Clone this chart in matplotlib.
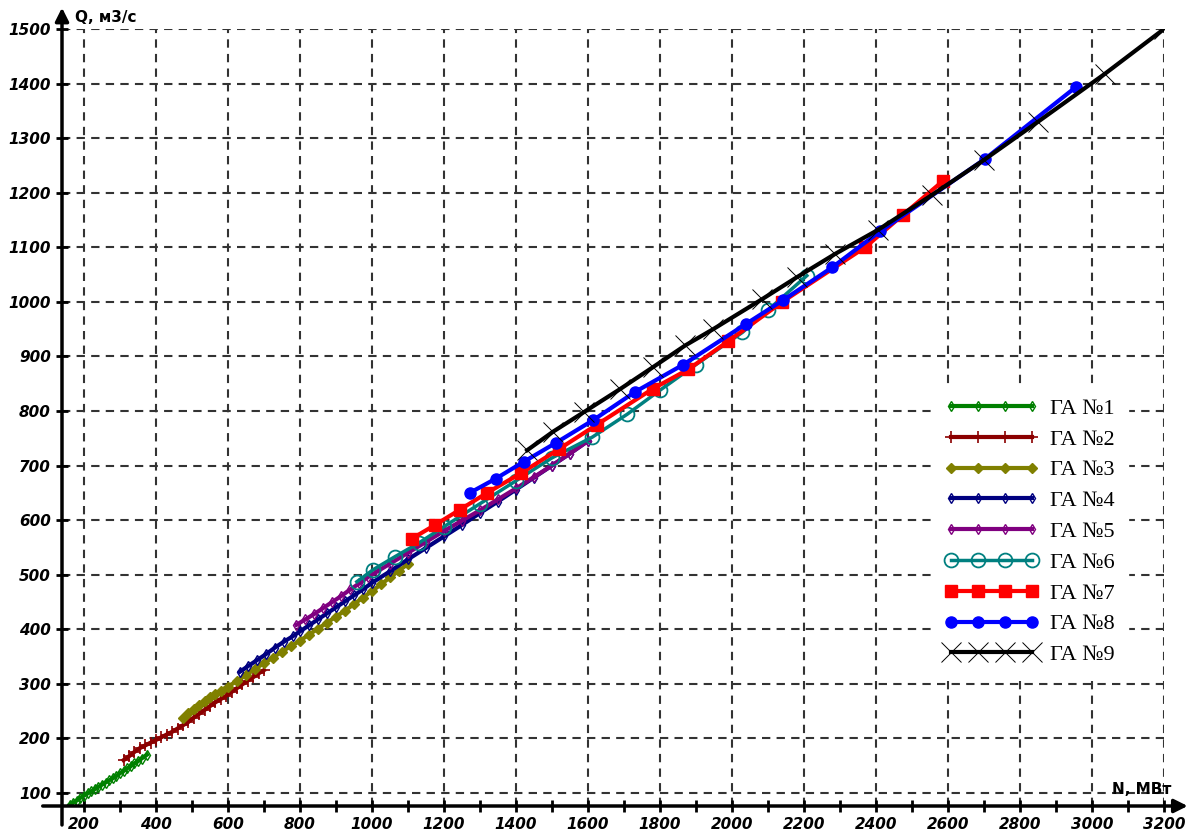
import matplotlib
matplotlib.use("Agg")
import matplotlib.pyplot as plt
from matplotlib.ticker import MultipleLocator
from matplotlib.font_manager import FontProperties

# === Data: N (MW) vs Q (m3/s) for each unit ===
ga1_n = [160, 170, 180, 190, 200, 210, 220, 230, 240, 250, 260, 270, 280, 290,
         300, 310, 320, 330, 340, 350, 360, 375]
ga1_q = [78, 82, 86, 91, 95, 99, 103, 107, 111, 115, 119, 123, 127, 131,
         136, 140, 145, 149, 154, 158, 163, 170]

ga2_n = [310, 325, 340, 355, 370, 385, 400, 415, 430, 445, 460, 475, 490, 505, 520,
         535, 550, 565, 580, 595, 610, 625, 640, 655, 670, 685, 700]
ga2_q = [160, 167, 175, 182, 187, 192, 197, 202, 207, 212, 218, 224, 230, 238, 245,
         252, 259, 266, 272, 278, 285, 292, 299, 306, 312, 319, 325]

ga3_n = [475, 490, 505, 520, 535, 550, 565, 580, 600, 625, 650, 675, 700, 725, 750,
         775, 800, 825, 850, 875, 900, 925, 950, 975, 1000, 1025, 1050, 1075, 1100]
ga3_q = [238, 246, 254, 262, 268, 275, 281, 287, 295, 305, 316, 327, 338, 348, 359,
         369, 379, 390, 401, 412, 423, 434, 446, 458, 470, 482, 495, 507, 520]

ga4_n = [633, 655, 680, 705, 730, 755, 780, 800, 825, 850, 875, 900, 925, 950, 975,
         1000, 1050, 1100, 1150, 1200, 1250, 1300, 1350, 1400, 1450, 1500, 1550, 1600]
ga4_q = [322, 332, 343, 354, 366, 377, 387, 396, 407, 418, 429, 440, 451, 462, 473,
         485, 506, 528, 549, 570, 591, 613, 634, 656, 678, 700, 722, 745]

ga5_n = [790, 815, 840, 865, 890, 915, 940, 965, 990, 1015, 1050, 1100, 1150, 1200,
         1250, 1300, 1350, 1400, 1450, 1500, 1550, 1600]
ga5_q = [408, 418, 428, 439, 450, 461, 473, 484, 496, 506, 520, 540, 560, 580,
         599, 618, 638, 658, 679, 700, 722, 745]

ga6_n = [958, 1003, 1064, 1130, 1200, 1300, 1400, 1500, 1612, 1709, 1800, 1900, 2029, 2100, 2208]
ga6_q = [487, 509, 533, 558, 588, 630, 672, 714, 752, 794, 838, 885, 944, 985, 1048]

ga7_n = [1111, 1175, 1244, 1320, 1414, 1519, 1625, 1781, 1878, 1990, 2140, 2370, 2476, 2587]
ga7_q = [566, 591, 619, 650, 686, 730, 775, 841, 876, 928, 1000, 1100, 1160, 1222]

ga8_n = [1272, 1344, 1422, 1512, 1614, 1731, 1865, 2040, 2142, 2278, 2411, 2703, 2956]
ga8_q = [650, 676, 707, 742, 783, 835, 885, 960, 1003, 1063, 1129, 1262, 1394]

ga9_n = [1431, 1503, 1589, 1689, 1780, 1870, 1948, 2084, 2180, 2287, 2406, 2556, 2700, 2850, 3036, 3200]
ga9_q = [728, 762, 798, 840, 880, 920, 950, 1005, 1045, 1088, 1132, 1196, 1260, 1330, 1418, 1500]

labels = ["ГА №1", "ГА №2", "ГА №3", "ГА №4", "ГА №5", "ГА №6", "ГА №7", "ГА №8", "ГА №9"]

# === Figure ===
fig = plt.figure(figsize=(12.04, 8.36), dpi=100)
W, H = 1204, 836
ax = fig.add_axes([62 / W, (H - 806) / H, (1164 - 62) / W, (806 - 29) / H])

ax.plot(ga1_n, ga1_q, color="#008000", lw=3, marker="d", ms=5, mfc="none", mew=1, label=labels[0])
ax.plot(ga2_n, ga2_q, color="#8b0000", lw=3, marker="+", ms=8, mew=1.2, label=labels[1])
ax.plot(ga3_n, ga3_q, color="#808000", lw=3, marker="D", ms=5, label=labels[2])
ax.plot(ga4_n, ga4_q, color="#000080", lw=3, marker="d", ms=5, mfc="none", mew=1, label=labels[3])
ax.plot(ga5_n, ga5_q, color="#800080", lw=3, marker="d", ms=5, mfc="none", mew=1, label=labels[4])
ax.plot(ga6_n, ga6_q, color="#008080", lw=2.5, marker="o", ms=10, mfc="none", mew=1.3, label=labels[5])
ax.plot(ga7_n, ga7_q, color="#ff0000", lw=3, marker="s", ms=9, label=labels[6])
ax.plot(ga8_n, ga8_q, color="#0000ff", lw=3, marker="o", ms=8, label=labels[7])
ax.plot(ga9_n, ga9_q, color="#000000", lw=3, marker="x", ms=14, mew=0.7, label=labels[8])

ax.set_xlim(139, 3200)
ax.set_ylim(76, 1500)
ax.xaxis.set_major_locator(MultipleLocator(200))
ax.xaxis.set_minor_locator(MultipleLocator(100))
ax.yaxis.set_major_locator(MultipleLocator(100))

ax.grid(True, which="major", color="#333333", linestyle=(0, (4, 3)), lw=1.5)
for s in ax.spines.values():
    s.set_visible(False)

tick_font = FontProperties(family="DejaVu Sans", weight="bold", style="italic", size=11)
ax.tick_params(axis="both", which="major", direction="inout", length=9, width=2, color="black")
ax.tick_params(axis="x", which="minor", direction="inout", length=9, width=2, color="black")
for lab in ax.get_xticklabels() + ax.get_yticklabels():
    lab.set_fontproperties(tick_font)

# axis lines with arrows
ax.annotate("", xy=(0, 1.031), xytext=(0, -0.028), xycoords="axes fraction",
            arrowprops=dict(arrowstyle="-|>", color="black", lw=2.5, mutation_scale=20), annotation_clip=False)
ax.annotate("", xy=(1.024, 0), xytext=(-0.02, 0), xycoords="axes fraction",
            arrowprops=dict(arrowstyle="-|>", color="black", lw=2.5, mutation_scale=20), annotation_clip=False)

fig.text(75 / W, 1 - 17 / H, "Q, м3/с", ha="left", va="center", fontsize=11, fontweight="bold", family="DejaVu Sans")
fig.text(1112 / W, 1 - 790 / H, "N, МВт", ha="left", va="center", fontsize=11, fontweight="bold", family="DejaVu Sans")

leg = ax.legend(loc="upper left", bbox_to_anchor=(931 / W, 1 - 385 / H), bbox_transform=fig.transFigure,
                prop=dict(family="Liberation Serif", size=16), numpoints=4, handlelength=4.25,
                handletextpad=0.5, labelspacing=0.46, frameon=True, fancybox=False,
                borderpad=0.6, borderaxespad=0)
leg.get_frame().set_facecolor("white")
leg.get_frame().set_edgecolor("white")
leg.get_frame().set_alpha(1)

plt.savefig("out.png", dpi=100)
plt.close()
